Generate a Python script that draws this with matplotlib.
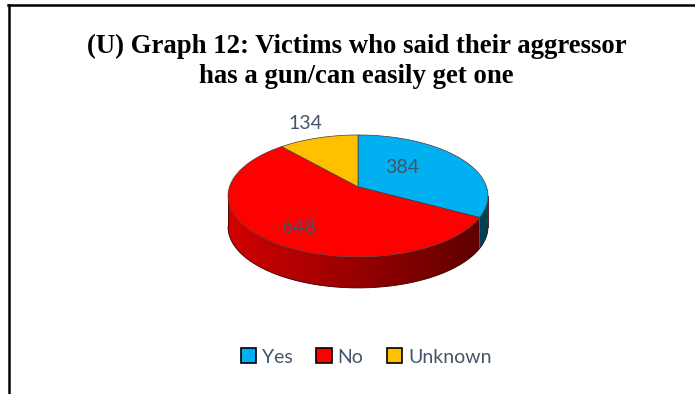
import numpy as np
import matplotlib
matplotlib.use("Agg")
import matplotlib.pyplot as plt
from matplotlib.patches import Polygon, Patch
from matplotlib.lines import Line2D
from matplotlib.colors import to_rgb

# survey answers
categories = ["Yes", "No", "Unknown"]
counts = [384, 648, 134]
colors = ["#00B0F0", "#FF0000", "#FFC000"]

# where each count label sits (pixels)
label_pos = [(402, 167), (299, 227), (305, 123)]

W, H = 695, 394
fig = plt.figure(figsize=(W / 100, H / 100), dpi=100)
ax = fig.add_axes([0, 0, 1, 1])
ax.set_xlim(0, W)
ax.set_ylim(H, 0)
ax.axis("off")

# tilted disc with a bit of perspective (k): the far side shrinks
cx, cy = 358, 186.8
rx, ry = 128.5, 59.6
k = 0.15
depth = 31


def pt(theta, dz=0):
    t = np.radians(theta)
    s = 1 / (1 + k * np.cos(t))
    return cx + rx * np.sin(t) * s, cy - ry * np.cos(t) * s + dz


# slice angles, clockwise from 12 o'clock
total = sum(counts)
bounds = np.concatenate([[0], np.cumsum(counts) / total * 360])

# visible part of the wall runs between the silhouette points
edge = np.degrees(np.arccos(-k))
front = (edge, 360 - edge)
xl, _ = pt(front[1])
xr, _ = pt(front[0])

# side wall, shaded darker towards the right
shade = np.linspace(0.82, 0.36, 256)
for i, c in enumerate(colors):
    a0, a1 = max(bounds[i], front[0]), min(bounds[i + 1], front[1])
    if a1 <= a0:
        continue
    arc = np.linspace(a0, a1, 150)
    tx, ty = pt(arc)
    bx, by = pt(arc[::-1], depth)
    wall = Polygon(list(zip(tx, ty)) + list(zip(bx, by)), closed=True,
                   facecolor="none", edgecolor="none")
    ax.add_patch(wall)
    grad = np.array(to_rgb(c))[None, None, :] * shade[None, :, None]
    im = ax.imshow(grad, extent=(xl, xr, H, 0), aspect="auto",
                   interpolation="bilinear", zorder=1)
    im.set_clip_path(wall)
ax.set_xlim(0, W)
ax.set_ylim(H, 0)

# outline of the wall
arc = np.linspace(front[0], front[1], 200)
bx, by = pt(arc, depth)
ax.plot(bx, by, color="#3a0000", linewidth=0.6, zorder=2)
for a in front:
    x, y = pt(a)
    ax.plot([x, x], [y, y + depth], color="#3a0000", linewidth=0.6, zorder=2)

# top faces
for i, c in enumerate(colors):
    arc = np.linspace(bounds[i], bounds[i + 1], 120)
    xs, ys = pt(arc)
    poly = [(cx, cy)] + list(zip(xs, ys))
    ax.add_patch(Polygon(poly, closed=True, facecolor=c, edgecolor="#4a3a30",
                         linewidth=0.5, zorder=3))

for (x, y), v in zip(label_pos, counts):
    ax.text(x, y, str(v), ha="center", va="center", fontsize=14,
            family="Lato", color="#44546A", zorder=4)

title_lines = ["(U) Graph 12: Victims who said their aggressor",
               "has a gun/can easily get one"]
for line, base_y in zip(title_lines, [53, 83]):
    ax.text(356.5, base_y, line, ha="center", va="baseline", fontsize=19.3,
            fontweight="bold", family="Liberation Serif")

handles = [Patch(facecolor=c, edgecolor="black", linewidth=1.2) for c in colors]
fig.legend(handles, categories, loc="center", bbox_to_anchor=(0.527, 0.094),
           ncol=3, frameon=False, handlelength=0.8, handleheight=0.8,
           handletextpad=0.3, columnspacing=1.2,
           prop={"family": "Lato", "size": 14}, labelcolor="#44546A")

# chart border: top and left edges
fig.add_artist(Line2D([8 / W, 1], [1 - 4.5 / H] * 2, color="black", linewidth=1.8))
fig.add_artist(Line2D([9 / W] * 2, [0, 1 - 4.5 / H], color="black", linewidth=1.8))

fig.savefig("out.png", dpi=100, facecolor="white")
